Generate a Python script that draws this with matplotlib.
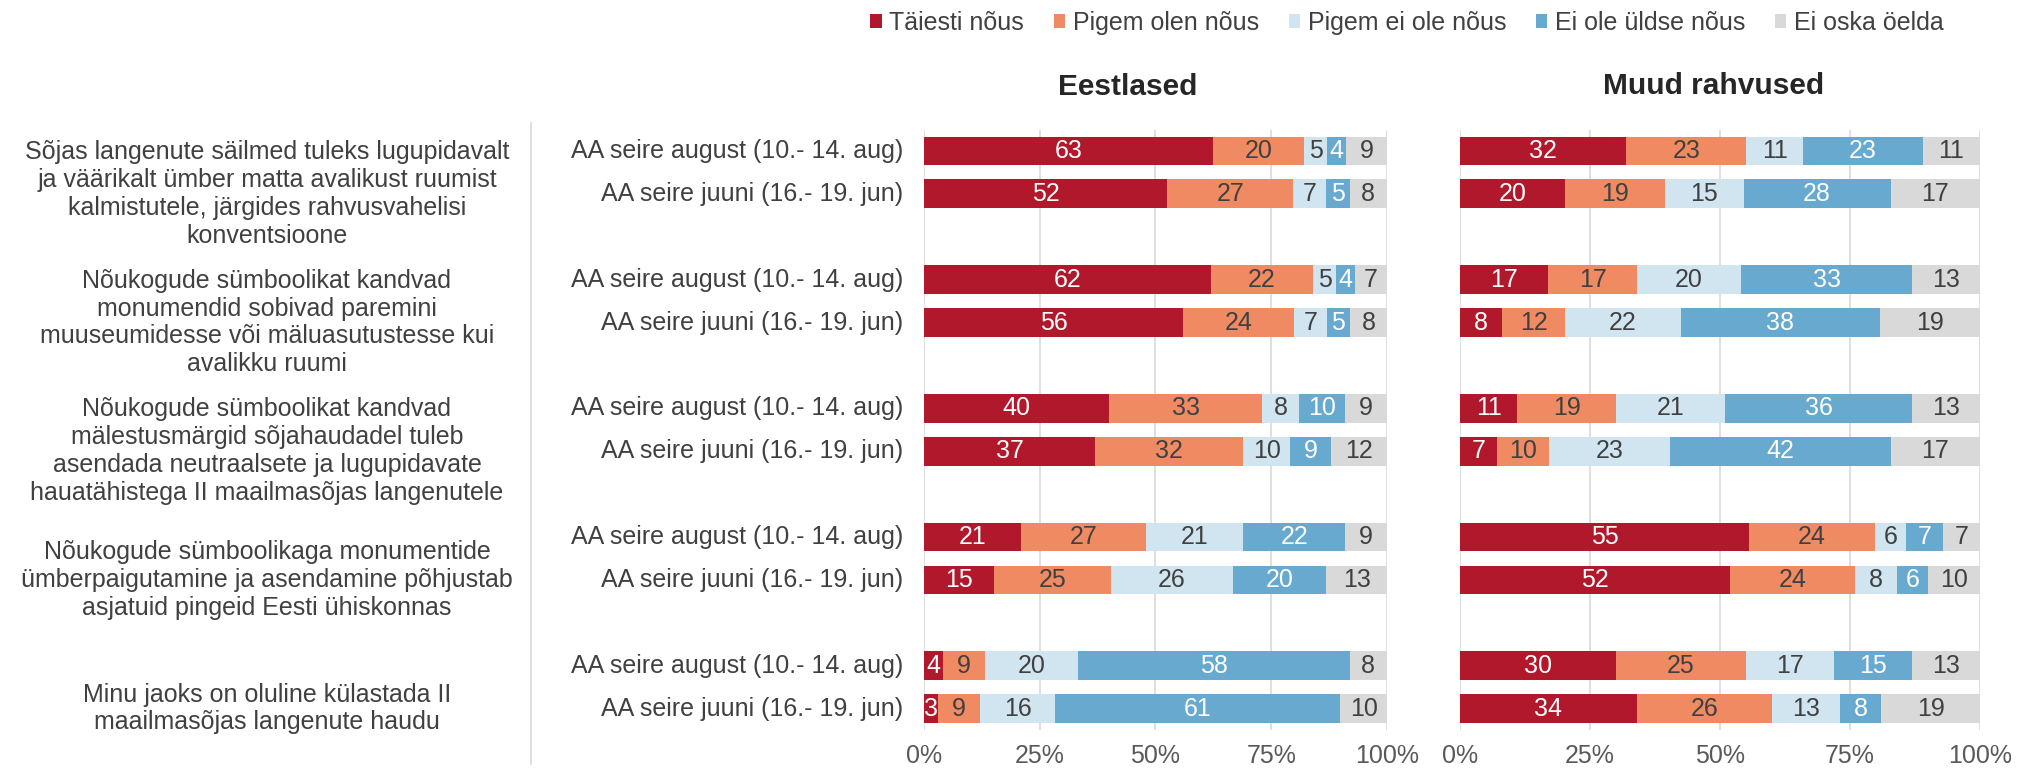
import matplotlib
matplotlib.use("Agg")
import matplotlib.pyplot as plt
from matplotlib.patches import Patch
from matplotlib.lines import Line2D
import matplotlib.transforms as mtrans
import numpy as np

plt.rcParams['font.family'] = ['Liberation Sans', 'DejaVu Sans']

# ---------------- data ----------------
categories = ["Täiesti nõus", "Pigem olen nõus", "Pigem ei ole nõus", "Ei ole üldse nõus", "Ei oska öelda"]
colors = ["#B2182B", "#EF8A62", "#D1E5F0", "#67A9CF", "#D9D9D9"]
label_colors = ["white", "#404040", "#404040", "white", "#404040"]

questions = [
    "Sõjas langenute säilmed tuleks lugupidavalt\nja väärikalt ümber matta avalikust ruumist\nkalmistutele, järgides rahvusvahelisi\nkonventsioone",
    "Nõukogude sümboolikat kandvad\nmonumendid sobivad paremini\nmuuseumidesse või mäluasutustesse kui\navalikku ruumi",
    "Nõukogude sümboolikat kandvad\nmälestusmärgid sõjahaudadel tuleb\nasendada neutraalsete ja lugupidavate\nhauatähistega II maailmasõjas langenutele",
    "Nõukogude sümboolikaga monumentide\nümberpaigutamine ja asendamine põhjustab\nasjatuid pingeid Eesti ühiskonnas",
    "Minu jaoks on oluline külastada II\nmaailmasõjas langenute haudu",
]
waves = ["AA seire august (10.- 14. aug)", "AA seire juuni (16.- 19. jun)"]

panel_titles = ["Eestlased", "Muud rahvused"]

# rows: for each question, august then juni
eestlased = [
    [63, 20, 5, 4, 9],
    [52, 27, 7, 5, 8],
    [62, 22, 5, 4, 7],
    [56, 24, 7, 5, 8],
    [40, 33, 8, 10, 9],
    [37, 32, 10, 9, 12],
    [21, 27, 21, 22, 9],
    [15, 25, 26, 20, 13],
    [4, 9, 20, 58, 8],
    [3, 9, 16, 61, 10],
]
muud = [
    [32, 23, 11, 23, 11],
    [20, 19, 15, 28, 17],
    [17, 17, 20, 33, 13],
    [8, 12, 22, 38, 19],
    [11, 19, 21, 36, 13],
    [7, 10, 23, 42, 17],
    [55, 24, 6, 7, 7],
    [52, 24, 8, 6, 10],
    [30, 25, 17, 15, 13],
    [34, 26, 13, 8, 19],
]
xticks = [0, 25, 50, 75, 100]
xticklabels = ["0%", "25%", "50%", "75%", "100%"]

# ---------------- layout ----------------
W, H = 2031, 771
fig = plt.figure(figsize=(W / 100, H / 100), dpi=100)

def fx(px):
    return px / W

def fy(py):
    return 1 - py / H

ax_top, ax_bot = 129.5, 730
axL = fig.add_axes([fx(924), fy(ax_bot), fx(1387 - 924), (ax_bot - ax_top) / H])
axR = fig.add_axes([fx(1460), fy(ax_bot), fx(1980 - 1460), (ax_bot - ax_top) / H])

n_q = len(questions)
ypos = []
for g in range(n_q):
    ypos += [3 * g, 3 * g + 1]
ypos = np.array(ypos, dtype=float)

txt_col = "#404040"
FS = 18

for ax, data in [(axL, eestlased), (axR, muud)]:
    arr = np.array(data, dtype=float)
    norm = arr / arr.sum(axis=1, keepdims=True) * 100
    left = np.zeros(len(arr))
    for k in range(len(categories)):
        ax.barh(ypos, norm[:, k], left=left, height=0.67, color=colors[k], zorder=2)
        for i in range(len(arr)):
            ax.text(left[i] + norm[i, k] / 2, ypos[i], f"{int(arr[i, k])}",
                    ha="center", va="center", fontsize=FS, color=label_colors[k], zorder=3)
        left += norm[:, k]
    ax.set_xlim(0, 100)
    ax.set_ylim(13.5, -0.5)
    ax.set_xticks(xticks)
    ax.set_xticklabels(xticklabels, fontsize=FS, color="#595959")
    ax.set_yticks([])
    ax.tick_params(axis="x", length=0, pad=10)
    for s in ax.spines.values():
        s.set_visible(False)
    ax.grid(axis="x", color="#D9D9D9", linewidth=1.2, zorder=0)
    ax.set_axisbelow(True)

# wave labels (right aligned) and question labels, in data-y of left axes
tr = mtrans.blended_transform_factory(fig.transFigure, axL.transData)
for i, y in enumerate(ypos):
    axL.text(fx(903), y, waves[i % 2], transform=tr, ha="right", va="center",
             fontsize=FS, color=txt_col, clip_on=False)
for g, q in enumerate(questions):
    axL.text(fx(267), 3 * g + 1, q, transform=tr, ha="center", va="center",
             fontsize=FS, color=txt_col, linespacing=1.2, multialignment="center",
             clip_on=False)

# separator line
fig.add_artist(Line2D([fx(531), fx(531)], [fy(123), fy(764)], transform=fig.transFigure,
                      color="#D9D9D9", linewidth=1.2))

# titles
fig.text(fx(1128), fy(87), panel_titles[0], ha="center", va="center", fontsize=21.5,
         fontweight="bold", color="#262626")
fig.text(fx(1714), fy(86), panel_titles[1], ha="center", va="center", fontsize=21.5,
         fontweight="bold", color="#262626")

# legend
handles = [Patch(facecolor=c, edgecolor="none") for c in colors]
fig.legend(handles, categories, loc="center", bbox_to_anchor=(fx(1407), fy(23)), ncol=5,
           frameon=False, fontsize=FS, handlelength=0.45, handleheight=0.45,
           handletextpad=0.3, columnspacing=1.2, labelcolor="#404040")

fig.savefig("out.png", dpi=100)
